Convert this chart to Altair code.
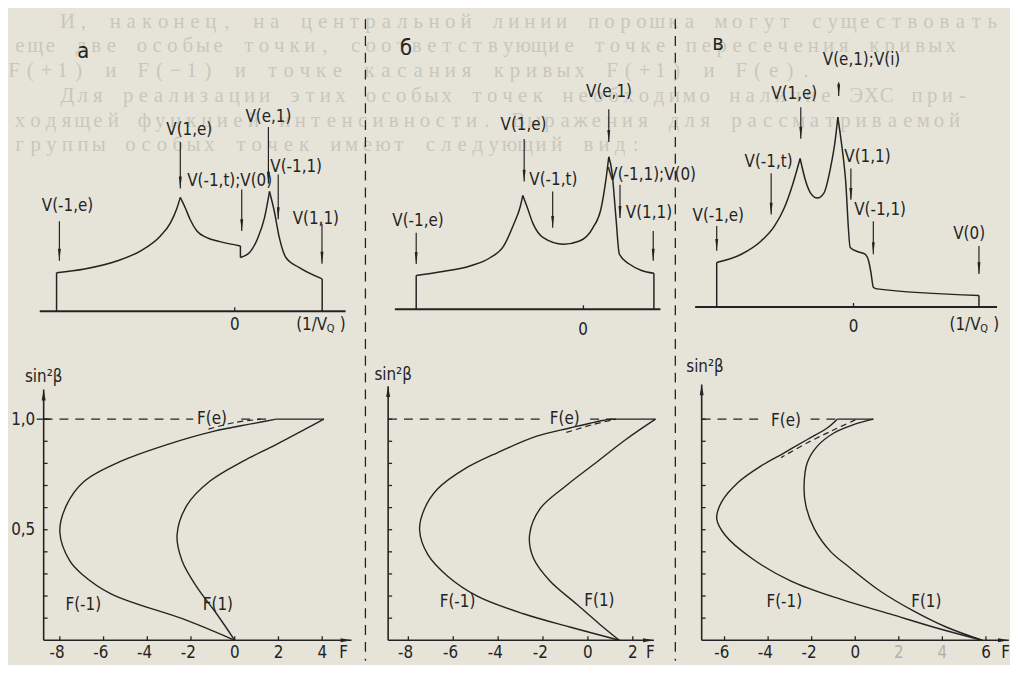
import altair as alt
import pandas as pd

# ------------------------------------------------------------------ layout / style
H = 656                      # height of each column (px)
OFF = 8                      # page margin
S0_PY, S1_PY = 643.3, 420.0  # page y of sin^2(beta) = 0 and = 1
PPI = 100.0                  # px per unit of spectrum intensity
TICK_LABEL_S = -0.058        # level of the F tick labels (in sin^2 units, below the axis)

INK = "#232323"
PAPER = "#e6e4d9"
GHOST = "#c9c7bc"
FAINT = "#b4b2a7"
FONT = "DejaVu Sans Condensed, Liberation Sans Narrow, DejaVu Sans"
SERIF = "Liberation Serif, DejaVu Serif"
LABEL_SIZE = 17

# ------------------------------------------------------------------ data
Y_TICKS = [0.1, 0.2, 0.3, 0.4, 0.5, 0.6, 0.7, 0.8, 0.9, 1.0]
Y_LABELS = [0.5, 1.0]

# ---- panel а
A_X_TICKS = [-8, -6, -4, -2, 0, 2, 4]
A_SPEC = [
    [(-8.15, 0.39), (-6.87, 0.427), (-5.36, 0.51), (-4.30, 0.61), (-3.40, 0.76),
     (-2.94, 0.893), (-2.64, 1.043), (-2.49, 1.15)],
    [(-2.49, 1.15), (-2.26, 1.043), (-2.04, 0.927), (-1.73, 0.81), (-1.28, 0.743),
     (-0.68, 0.703), (0.26, 0.66)],
    [(0.26, 0.543), (0.68, 0.593), (1.06, 0.743), (1.36, 0.943), (1.59, 1.21)],
    [(1.59, 1.21), (1.81, 1.01), (2.04, 0.743), (2.34, 0.543), (2.94, 0.443), (4.0, 0.327)],
]
A_JUMPS = [(-8.15, 0.0, 0.39), (0.26, 0.543, 0.66), (4.0, 0.0, 0.327)]
A_BASE = (-8.92, 5.07)
A_ZERO = 0.0
A_ARROWS = [
    ("V(-1,e)", -7.65, 1.06, -8.02, 0.91, 0.51),
    ("V(1,e)", -2.08, 1.83, -2.49, 1.71, 1.24),
    ("V(-1,t);V(0)", -0.23, 1.31, 0.32, 1.23, 0.81),
    ("V(e,1)", 1.54, 1.96, 1.54, 1.86, 1.29),
    ("V(-1,1)", 2.81, 1.46, 1.99, 1.38, 0.93),
    ("V(1,1)", 3.71, 0.93, 3.99, 0.88, 0.48),
]
A_M1 = [(0.0, 0.0), (-2.19, 0.09), (-5.66, 0.21), (-7.0, 0.30), (-7.55, 0.36), (-8.0, 0.49),
        (-7.7, 0.61), (-6.87, 0.72), (-5.2, 0.81), (-3.1, 0.885), (-0.98, 0.945),
        (0.82, 0.98), (1.9, 1.0)]
A_P1 = [(4.08, 1.0), (1.89, 0.885), (0.38, 0.81), (-1.13, 0.72), (-2.19, 0.61),
        (-2.64, 0.475), (-2.41, 0.36), (-1.73, 0.24), (-0.83, 0.12), (0.0, 0.0)]
A_TOP = (1.9, 4.08)
A_FE_DASH = [(-8.74, -1.9), (0.3, 1.5)]
A_FE_CURVE = [(-1.2, 0.955), (0.0, 0.985), (1.2, 1.0)]
A_CURVE_TEXT = [("F(-1)", -6.93, 0.16), ("F(1)", -0.77, 0.16), ("F(e)", -1.04, 1.0),
                ("sin²β", -8.74, 1.19), ("F", 4.98, -0.058)]
A_AXES = (-8.74, 5.34, 1.134)      # y-axis at F, x-axis end F, y-axis top
A_SPEC_TEXT = [("0", 0.0, -0.14)]
A_UNIT = (2.81, -0.14)
A_LETTER = ("а", -6.93, 2.63)

# ---- panel б
B_X_TICKS = [-8, -6, -4, -2, 0, 2]
B_SPEC = [
    [(-7.65, 0.34), (-6.69, 0.373), (-5.22, 0.44), (-4.34, 0.523), (-3.75, 0.64),
     (-3.31, 0.857), (-3.01, 1.04), (-2.9, 1.15)],
    [(-2.9, 1.15), (-2.72, 1.04), (-2.43, 0.857), (-1.99, 0.723), (-1.1, 0.657),
     (-0.37, 0.69), (0.22, 0.823), (0.59, 1.023), (0.81, 1.323), (0.93, 1.54)],
    [(0.93, 1.54), (1.07, 1.39), (1.25, 0.923), (1.4, 0.557), (1.84, 0.457), (2.94, 0.363)],
]
B_JUMPS = [(-7.65, 0.0, 0.34), (2.94, 0.0, 0.363)]
B_BASE = (-8.6, 3.23)
B_ZERO = -0.2
B_ARROWS = [
    ("V(-1,e)", -7.57, 0.89, -7.65, 0.773, 0.457),
    ("V(1,e)", -2.87, 1.857, -2.84, 1.72, 1.29),
    ("V(-1,t)", -1.54, 1.307, -1.57, 1.19, 0.823),
    ("V(e,1)", 0.94, 2.19, 0.93, 2.02, 1.69),
    ("V(-1,1);V(0)", 2.84, 1.36, 1.43, 1.257, 0.923),
    ("V(1,1)", 2.72, 0.973, 2.91, 0.79, 0.49),
]
B_M1 = [(1.4, 0.0), (-0.81, 0.06), (-2.87, 0.12), (-4.93, 0.20), (-6.25, 0.29),
        (-7.13, 0.387), (-7.5, 0.50), (-7.28, 0.595), (-6.69, 0.685), (-5.51, 0.774),
        (-4.04, 0.848), (-2.28, 0.923), (-0.81, 0.96), (0.66, 0.994), (1.1, 1.0)]
B_P1 = [(3.01, 1.0), (1.69, 0.908), (0.37, 0.804), (-0.96, 0.70), (-2.13, 0.595),
        (-2.6, 0.476), (-2.43, 0.372), (-1.69, 0.268), (-0.51, 0.164), (0.51, 0.074),
        (1.4, 0.0)]
B_TOP = (1.1, 3.01)
B_FE_DASH = [(-8.9, -2.05), (0.1, 1.2)]
B_FE_CURVE = [(-0.96, 0.94), (0.2, 0.975), (1.25, 1.0)]
B_CURVE_TEXT = [("F(-1)", -5.81, 0.171), ("F(1)", 0.51, 0.179), ("F(e)", -1.03, 1.0),
                ("sin²β", -8.68, 1.20), ("F", 2.78, -0.058)]
B_AXES = (-8.9, 2.94, 1.149)
B_SPEC_TEXT = [("0", -0.22, -0.21)]
B_LETTER = ("б", -8.1, 2.64)

# ---- panel в
C_X_TICKS = [-6, -4, -2, 0, 2, 4, 6]
C_SPEC = [
    [(-6.36, 0.45), (-5.23, 0.533), (-4.32, 0.667), (-3.71, 0.817), (-3.26, 1.0),
     (-2.88, 1.233), (-2.53, 1.5)],
    [(-2.53, 1.5), (-2.27, 1.267), (-2.05, 1.15), (-1.74, 1.1), (-1.44, 1.15),
     (-1.14, 1.4), (-0.91, 1.7), (-0.8, 1.917)],
    [(-0.8, 1.917), (-0.68, 1.733), (-0.45, 1.3), (-0.23, 0.6), (0.1, 0.56), (0.45, 0.533),
     (0.62, 0.46), (0.72, 0.35), (0.83, 0.2), (1.0, 0.183), (5.68, 0.117)],
]
C_JUMPS = [(-6.36, 0.0, 0.45), (5.68, 0.0, 0.117)]
C_BASE = (-7.35, 6.51)
C_ZERO = -0.08
C_ARROWS = [
    ("V(-1,e)", -6.29, 0.917, -6.36, 0.817, 0.567),
    ("V(-1,t)", -3.98, 1.467, -3.86, 1.35, 0.933),
    ("V(1,e)", -2.8, 2.15, -2.5, 2.017, 1.7),
    ("V(e,1);V(i)", 0.29, 2.497, -0.76, 2.27, 2.13),
    ("V(1,1)", 0.56, 1.517, -0.2, 1.4, 1.083),
    ("V(-1,1)", 1.14, 0.983, 0.83, 0.867, 0.533),
    ("V(0)", 5.23, 0.733, 5.68, 0.617, 0.333),
]
C_M1 = [(5.83, 0.0), (3.86, 0.052), (1.59, 0.119), (-0.68, 0.186), (-2.95, 0.268),
        (-4.77, 0.372), (-5.98, 0.476), (-6.36, 0.55), (-6.14, 0.625), (-5.38, 0.714),
        (-4.32, 0.789), (-3.26, 0.848), (-2.2, 0.908), (-1.29, 0.96), (-0.83, 1.0)]
C_P1 = [(0.83, 1.0), (-0.08, 0.975), (-0.98, 0.9375), (-1.74, 0.878), (-2.2, 0.804),
        (-2.35, 0.699), (-2.27, 0.61), (-1.89, 0.506), (-1.14, 0.402), (-0.23, 0.327),
        (1.14, 0.223), (2.65, 0.134), (4.17, 0.06), (5.83, 0.0)]
C_TOP = (-0.83, 0.83)
C_FE_DASH = [(-7.05, -4.3), (-2.05, -0.83)]
C_FE_CURVE = [(0.0, 0.997), (-0.98, 0.952), (-2.2, 0.893), (-3.41, 0.826)]
C_CURVE_TEXT = [("F(-1)", -3.26, 0.171), ("F(1)", 3.26, 0.171), ("F(e)", -3.18, 0.99),
                ("sin²β", -6.9, 1.237), ("F", 6.9, -0.058)]
C_AXES = (-7.05, 7.05, 1.157)
C_SPEC_TEXT = [("0", -0.08, -0.2)]
C_UNIT = (4.33, -0.18)
C_LETTER = ("в", -6.3, 2.67)
C_FAINT_LABELS = [2, 4]

# faint text of the page showing through (page x from, page x to, page y)
BLEED_LINES = [
    ("И, наконец, на центральной линии порошка могут существовать", 66, 1000, 19),
    ("еще две особые точки, соответствующие точке пересечения кривых", 18, 958, 43),
    ("F(+1) и F(−1) и точке касания кривых F(+1) и F(e).", 12, 812, 68),
    ("Для реализации этих особых точек необходимо наличие ЭХС при-", 66, 970, 94),
    ("ходящей функцией интенсивности. Выражения для рассматриваемой", 18, 962, 119),
    ("группы особых точек имеют следующий вид:", 18, 640, 143),
]

# column geometry: page x of left edge, width, page x of F = 0, px per F unit, page y of spectrum baseline
GEOM = {
    "а": (8, 359, 235.0, 22.08, 311.0),
    "б": (367, 313, 591.7, 22.67, 309.0),
    "в": (680, 338, 861.7, 22.0, 306.7),
}


def bleed_chars():
    rows = []
    for text, x0, x1, y in BLEED_LINES:
        n = len(text)
        step = (x1 - x0) / (n - 1)
        for i, ch in enumerate(text):
            if ch == " ":
                continue
            px = x0 + i * step
            col = "а" if px < 367 else ("б" if px < 680 else "в")
            rows.append({"col": col, "ch": ch, "px": px - GEOM[col][0], "py": y - OFF})
    return pd.DataFrame(rows)


BLEED = bleed_chars()


def panel(key, P):
    left, W, f0, ppf, base = GEOM[key]
    lo, hi = (left - f0) / ppf, (left + W - f0) / ppf
    xs = alt.Scale(domain=[lo, hi], nice=False, zero=False)
    s0 = S0_PY - OFF
    ppu = S0_PY - S1_PY
    ss = alt.Scale(domain=[-(H - s0) / ppu, s0 / ppu], nice=False, zero=False)
    b = base - OFF
    si = alt.Scale(domain=[-(H - b) / PPI, b / PPI], nice=False, zero=False)

    def X(f):
        return alt.X(f + ":Q", scale=xs, axis=None)

    def YS(f):
        return alt.Y(f + ":Q", scale=ss, axis=None)

    def YI(f):
        return alt.Y(f + ":Q", scale=si, axis=None)

    yF, xEnd, yTop = P["axes"]
    if P.get("ylabels"):
        ypx = (yF - lo) / (hi - lo) * W
        ya = alt.Axis(orient="left", values=Y_LABELS, ticks=False, domain=False, grid=False,
                      title=None, offset=-ypx, labelPadding=9, labelOverlap=False,
                      labelExpr="replace(format(datum.value, '.1f'), '.', ',')")
    else:
        ya = None

    L = []
    # ---- lower plot: curves F(m)
    cur = []
    for name, pts in (("m1", P["m1"]), ("p1", P["p1"])):
        for i, (F, s) in enumerate(pts):
            cur.append({"c": name, "i": i, "F": F, "s": s})
    L.append(alt.Chart(pd.DataFrame(cur))
             .mark_line(interpolate="catmull-rom", color=INK, strokeWidth=1.4)
             .encode(x=X("F"), y=alt.Y("s:Q", scale=ss, axis=ya),
                     detail="c:N", order="i:Q"))

    # faint page text behind the figure
    bl = BLEED[BLEED["col"] == key]
    L.append(alt.Chart(bl).mark_text(font=SERIF, fontSize=21, color=GHOST, align="center",
                                     baseline="middle")
             .encode(x=alt.X("px:Q", scale=None, axis=None),
                     y=alt.Y("py:Q", scale=None, axis=None), text="ch:N"))

    fe = pd.DataFrame([{"i": i, "F": F, "s": s} for i, (F, s) in enumerate(P["fe_curve"])])
    L.append(alt.Chart(fe).mark_line(interpolate="catmull-rom", color=INK, strokeWidth=1.2,
                                     strokeDash=[6, 4])
             .encode(x=X("F"), y=YS("s"), order="i:Q"))
    fd = pd.DataFrame([{"F1": a, "F2": c, "s": 1.0} for a, c in P["fe_dash"]])
    L.append(alt.Chart(fd).mark_rule(color=INK, strokeWidth=1.2, strokeDash=[9, 7])
             .encode(x=X("F1"), x2="F2:Q", y=YS("s")))
    tp = pd.DataFrame([{"F1": P["top"][0], "F2": P["top"][1], "s": 1.0}])
    L.append(alt.Chart(tp).mark_rule(color=INK, strokeWidth=1.4)
             .encode(x=X("F1"), x2="F2:Q", y=YS("s")))
    ax = pd.DataFrame([{"F1": yF, "F2": xEnd, "s1": 0.0, "s2": 0.0},
                       {"F1": yF, "F2": yF, "s1": 0.0, "s2": yTop}])
    L.append(alt.Chart(ax).mark_rule(color=INK, strokeWidth=1.6)
             .encode(x=X("F1"), x2="F2:Q", y=YS("s1"), y2="s2:Q"))
    L.append(alt.Chart(pd.DataFrame([{"F": yF, "s": yTop}]))
             .mark_point(shape="M-0.8,4.4L0.8,4.4L0,0Z", size=25, filled=True, color=INK, opacity=1)
             .encode(x=X("F"), y=YS("s")))
    L.append(alt.Chart(pd.DataFrame([{"F": xEnd, "s": 0.0}]))
             .mark_point(shape="M-4.4,-0.8L-4.4,0.8L0,0Z", size=25, filled=True, color=INK, opacity=1)
             .encode(x=X("F"), y=YS("s")))
    xt = pd.DataFrame({"F": P["xticks"], "s": [0.0] * len(P["xticks"])})
    L.append(alt.Chart(xt).mark_point(shape="M0,0L0,-1", size=64, filled=False, color=INK,
                                      strokeWidth=1.3, opacity=1)
             .encode(x=X("F"), y=YS("s")))
    # tick labels of F (digit centred on its tick, minus sign hanging to the left)
    faint = P.get("faint", [])
    xl = pd.DataFrame({"F": P["xticks"],
                       "s": [TICK_LABEL_S] * len(P["xticks"]),
                       "t": [str(v) for v in P["xticks"]],
                       "c": [FAINT if v in faint else INK for v in P["xticks"]]})
    L.append(alt.Chart(xl).mark_text(font=FONT, fontSize=LABEL_SIZE, align="right", dx=4.9)
             .encode(x=X("F"), y=YS("s"), text="t:N", color=alt.Color("c:N", scale=None)))
    yt = pd.DataFrame({"F": [yF] * len(Y_TICKS), "s": Y_TICKS})
    L.append(alt.Chart(yt).mark_point(shape="M0,0L1,0", size=64, filled=False, color=INK,
                                      strokeWidth=1.3, opacity=1)
             .encode(x=X("F"), y=YS("s")))
    if P.get("ylabels"):
        L.append(alt.Chart(pd.DataFrame([{"F": yF, "s": 1.0}]))
                 .mark_point(shape="M-1,0L1,0", size=196, filled=False, color=INK,
                             strokeWidth=1.3, opacity=1)
                 .encode(x=X("F"), y=YS("s")))
    ct = pd.DataFrame(P["curve_text"], columns=["t", "F", "s"])
    L.append(alt.Chart(ct).mark_text(font=FONT, fontSize=LABEL_SIZE, color=INK)
             .encode(x=X("F"), y=YS("s"), text="t:N"))

    # ---- upper plot: powder spectrum
    L.append(alt.Chart(pd.DataFrame([{"F1": P["base"][0], "F2": P["base"][1], "I": 0.0}]))
             .mark_rule(color=INK, strokeWidth=1.9)
             .encode(x=X("F1"), x2="F2:Q", y=YI("I")))
    sg = pd.DataFrame([{"seg": k, "F": F, "I": I} for k, seg in enumerate(P["spec"]) for F, I in seg])
    L.append(alt.Chart(sg).mark_line(interpolate="monotone", color=INK, strokeWidth=1.5)
             .encode(x=X("F"), y=YI("I"), detail="seg:N"))
    jp = pd.DataFrame(P["jumps"], columns=["F", "I1", "I2"])
    L.append(alt.Chart(jp).mark_rule(color=INK, strokeWidth=1.5)
             .encode(x=X("F"), y=YI("I1"), y2="I2:Q"))
    L.append(alt.Chart(pd.DataFrame([{"F": P["zero"], "I": 0.0}]))
             .mark_point(shape="M0,0L0,-1", size=64, filled=False, color=INK,
                         strokeWidth=1.3, opacity=1)
             .encode(x=X("F"), y=YI("I")))
    ar = pd.DataFrame(P["arrows"], columns=["t", "lF", "lI", "aF", "aT", "aB"])
    L.append(alt.Chart(ar).mark_rule(color=INK, strokeWidth=1.2)
             .encode(x=X("aF"), y=YI("aT"), y2="aB:Q"))
    L.append(alt.Chart(ar).mark_point(shape="M-0.6,-4.8L0.6,-4.8L0,0Z", size=25, filled=True,
                                      color=INK, opacity=1)
             .encode(x=X("aF"), y=YI("aB")))
    L.append(alt.Chart(ar).mark_text(font=FONT, fontSize=LABEL_SIZE, color=INK)
             .encode(x=X("lF"), y=YI("lI"), text="t:N"))
    st = pd.DataFrame(P["spec_text"], columns=["t", "F", "I"])
    L.append(alt.Chart(st).mark_text(font=FONT, fontSize=LABEL_SIZE, color=INK)
             .encode(x=X("F"), y=YI("I"), text="t:N"))
    if P.get("unit"):
        uF, uI = P["unit"]
        ud = pd.DataFrame([{"F": uF, "I": uI}])
        L.append(alt.Chart(ud).mark_text(font=FONT, fontSize=LABEL_SIZE, color=INK, align="left",
                                         text="(1/V")
                 .encode(x=X("F"), y=YI("I")))
        L.append(alt.Chart(ud).mark_text(font=FONT, fontSize=11, color=INK, align="left", text="Q",
                                         dx=31, dy=4)
                 .encode(x=X("F"), y=YI("I")))
        L.append(alt.Chart(ud).mark_text(font=FONT, fontSize=LABEL_SIZE, color=INK, align="left",
                                         text=")", dx=44)
                 .encode(x=X("F"), y=YI("I")))
    lt = pd.DataFrame([P["letter"]], columns=["t", "F", "I"])
    L.append(alt.Chart(lt).mark_text(font=FONT, fontSize=22, color=INK)
             .encode(x=X("F"), y=YI("I"), text="t:N"))

    if P.get("sep"):
        L.append(alt.Chart(pd.DataFrame({"k": [0]}))
                 .mark_rule(color=INK, strokeWidth=1.3, strokeDash=[10, 7])
                 .encode(x=alt.value(0), y=alt.value(8), y2=alt.value(H)))

    return alt.layer(*L).resolve_scale(y="independent").properties(width=W, height=H)


PA = dict(xticks=A_X_TICKS, spec=A_SPEC, jumps=A_JUMPS, base=A_BASE, zero=A_ZERO,
          arrows=A_ARROWS, m1=A_M1, p1=A_P1, top=A_TOP, fe_dash=A_FE_DASH,
          fe_curve=A_FE_CURVE, curve_text=A_CURVE_TEXT, axes=A_AXES,
          spec_text=A_SPEC_TEXT, unit=A_UNIT, letter=A_LETTER, ylabels=True)
PB = dict(xticks=B_X_TICKS, spec=B_SPEC, jumps=B_JUMPS, base=B_BASE, zero=B_ZERO,
          arrows=B_ARROWS, m1=B_M1, p1=B_P1, top=B_TOP, fe_dash=B_FE_DASH,
          fe_curve=B_FE_CURVE, curve_text=B_CURVE_TEXT, axes=B_AXES,
          spec_text=B_SPEC_TEXT, letter=B_LETTER, sep=True)
PC = dict(xticks=C_X_TICKS, spec=C_SPEC, jumps=C_JUMPS, base=C_BASE, zero=C_ZERO,
          arrows=C_ARROWS, m1=C_M1, p1=C_P1, top=C_TOP, fe_dash=C_FE_DASH,
          fe_curve=C_FE_CURVE, curve_text=C_CURVE_TEXT, axes=C_AXES,
          spec_text=C_SPEC_TEXT, unit=C_UNIT, letter=C_LETTER, sep=True,
          faint=C_FAINT_LABELS)

chart = (
    alt.hconcat(panel("а", PA), panel("б", PB), panel("в", PC), spacing=0, bounds="flush")
    .properties(padding=0, background=PAPER)
    .configure_view(stroke=None)
    .configure_axis(labelFont=FONT, labelFontSize=LABEL_SIZE, labelColor=INK)
)

chart.save("out.html", embed_options={"renderer": "svg", "actions": False})
